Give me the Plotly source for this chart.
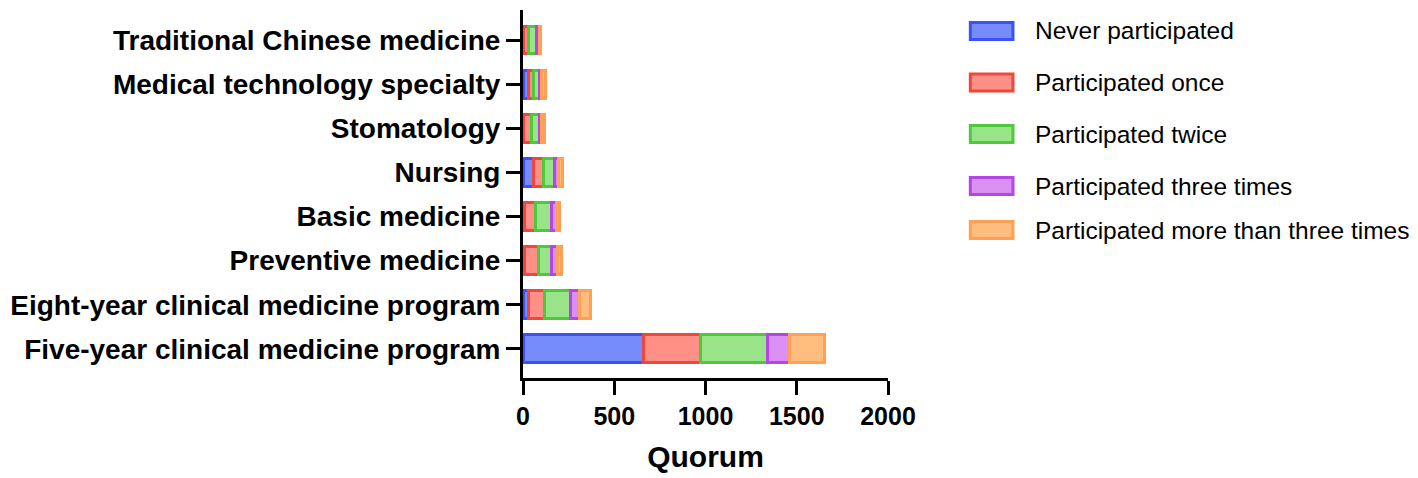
import plotly.graph_objects as go

categories = [
    "Five-year clinical medicine program",
    "Eight-year clinical medicine program",
    "Preventive medicine",
    "Basic medicine",
    "Nursing",
    "Stomatology",
    "Medical technology specialty",
    "Traditional Chinese medicine",
]
series_names = [
    "Never participated",
    "Participated once",
    "Participated twice",
    "Participated three times",
    "Participated more than three times",
]
never = [661, 29, 10, 8, 58, 5, 31, 5]
once = [310, 87, 74, 63, 55, 39, 26, 25]
twice = [368, 142, 74, 87, 58, 45, 35, 43]
three = [121, 54, 31, 27, 21, 12, 10, 17]
more = [192, 58, 23, 16, 24, 19, 21, 8]
series_values = [never, once, twice, three, more]

x_ticks = [0, 500, 1000, 1500, 2000]

fills = ["rgba(95,120,250,0.85)", "rgba(255,125,115,0.85)", "rgba(135,222,115,0.85)",
         "rgba(212,125,240,0.85)", "rgba(255,178,105,0.85)"]
lines = ["rgb(60,80,250)", "rgb(240,70,60)", "rgb(80,200,60)", "rgb(180,70,230)", "rgb(255,160,85)"]

fig = go.Figure()
for name, vals, fc, lc in zip(series_names, series_values, fills, lines):
    fig.add_trace(go.Bar(
        y=categories, x=vals, name=name, orientation="h",
        marker=dict(color=fc, line=dict(color=lc, width=3)),
        showlegend=False,
    ))

# page offset (browser body margin)
OFF = 8
# plot area in target pixels
L, R, T, B = 520, 888, 10, 378
W, H = R - L, B - T

def px_x(px):
    return (px - L) / W

def px_y(py):
    return (B - py) / H

legend_y = [31, 82.5, 134, 186, 230]
shapes = []
annotations = []
for name, fc, lc, cy in zip(series_names, fills, lines, legend_y):
    shapes.append(dict(type="rect", xref="paper", yref="paper",
                       x0=px_x(971), x1=px_x(1014), y0=px_y(cy + 8.5), y1=px_y(cy - 8.5),
                       fillcolor=fc, line=dict(color=lc, width=3)))
    annotations.append(dict(xref="paper", yref="paper", x=px_x(1034), y=px_y(cy),
                            text=name, showarrow=False, xanchor="left", yanchor="middle",
                            font=dict(family="Liberation Sans, Arial", size=24.5, color="black")))

fig.update_layout(
    width=1418, height=478,
    margin=dict(l=L - OFF, r=1418 - R + OFF, t=T - OFF, b=478 - B + OFF),
    barmode="stack", bargap=0.37,
    plot_bgcolor="white", paper_bgcolor="white",
    font=dict(family="Liberation Sans, Arial", color="black"),
    shapes=shapes, annotations=annotations,
    xaxis=dict(
        range=[0, 2000], tickvals=x_ticks, ticktext=[str(v) for v in x_ticks],
        showline=True, linewidth=3, linecolor="black",
        ticks="outside", ticklen=14, tickwidth=3, tickcolor="black",
        showgrid=False, zeroline=False,
        tickfont=dict(size=25, family="Liberation Sans, Arial", weight="bold"),
        title=dict(text="Quorum", standoff=17,
                   font=dict(size=30, family="Liberation Sans, Arial", weight="bold")),
    ),
    yaxis=dict(
        type="category", categoryorder="array", categoryarray=categories,
        range=[-0.66, 7.68],
        showline=True, linewidth=3, linecolor="black",
        ticks="outside", ticklen=14, tickwidth=3, tickcolor="black",
        showgrid=False, zeroline=False,
        tickfont=dict(size=28, family="Liberation Sans, Arial", weight="bold"),
    ),
)

fig.write_html("out.html")
